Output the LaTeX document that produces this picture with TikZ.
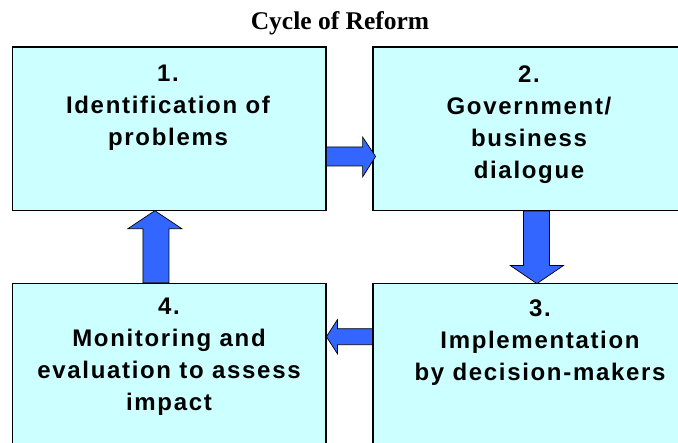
\documentclass[tikz,border=0pt]{standalone}
\usepackage{fontspec}
\setmainfont{Liberation Serif}
\newfontfamily\boxfont{Liberation Sans}[LetterSpace=7]
\usetikzlibrary{calc}
\definecolor{boxfill}{HTML}{CCFFFF}
\definecolor{arrfill}{HTML}{3366FF}
\tikzset{
  box/.style={draw=black, line width=1.2pt, fill=boxfill, rectangle, inner sep=0pt,
    minimum width=313.5pt},
  txt/.style={font=\boxfont\bfseries\fontsize{24}{32}\selectfont, align=center,
    inner sep=0pt, anchor=north},
  blockarr/.style={fill=arrfill, draw=black, line width=0.7pt, line join=miter},
  title/.style={font=\bfseries\fontsize{25.5}{28}\selectfont, inner sep=0pt, anchor=base}
}
\begin{document}
\begin{tikzpicture}[x=1pt,y=-1pt]
\useasboundingbox (0,0) rectangle (678,443);
\clip (0,0) rectangle (678,443);
\node[title] (title) at (340,30) {Cycle of Reform};
\node[box, minimum height=163.5pt] (b1) at (169.25,128.75) {};
\node[box, minimum height=163.5pt] (b2) at (529.75,128.75) {};
\node[box, minimum height=170pt] (b3) at (529.75,368.3) {};
\node[box, minimum height=170pt] (b4) at (169.25,368.3) {};
\node[txt] (t1) at (168,65) {1.\\Identification of\\problems};
\node[txt] (t2) at (529,66) {2.\\Government/\\business\\dialogue};
\node[txt] (t3) at (540,300) {3.\\Implementation\\by decision-makers};
\node[txt] (t4) at (169,298) {4.\\Monitoring and\\evaluation to assess\\impact};
% 1 -> 2
\draw[blockarr] ($(b1.east)+(0,18.25)$) -- ++(36,0) -- ++(0,-10) -- ++(13,19.5)
  -- ++(-13,20.5) -- ++(0,-11) -- ++(-36,0) -- cycle;
% 2 -> 3
\draw[blockarr] ($(b2.south west)+(151,0)$) -- ++(26,0) -- ++(0,54.5) -- ++(14,0)
  -- ++(-26.5,18) -- ++(-26.5,-18) -- ++(13,0) -- cycle;
% 3 -> 4
\draw[blockarr] ($(b3.north west)+(0,46)$) -- ++(-35,0) -- ++(0,-9) -- ++(-11,17)
  -- ++(11,17) -- ++(0,-9) -- ++(35,0) -- cycle;
% 4 -> 1
\draw[blockarr] ($(b4.north west)+(131,0)$) -- ++(0,-54) -- ++(-15,0) -- ++(27,-18)
  -- ++(27,18) -- ++(-13,0) -- ++(0,54) -- cycle;
\end{tikzpicture}
\end{document}
